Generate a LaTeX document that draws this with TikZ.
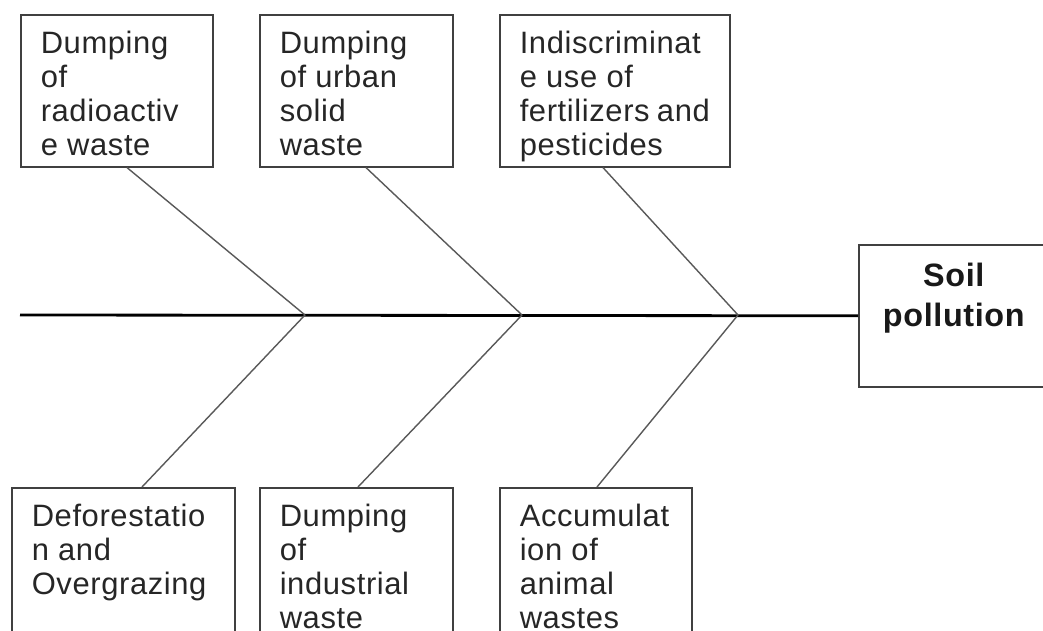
\documentclass[tikz,border=0pt]{standalone}
\usepackage{fontspec}
\setmainfont[LetterSpace=2]{Liberation Sans}
\usetikzlibrary{calc}

\tikzset{
  causebox/.style={draw=black!75, line width=1.1pt, anchor=north west,
    inner xsep=0.5cm, inner ysep=0pt, text=black!85,
    font=\fontsize{22}{24.2}\selectfont},
  effectbox/.style={draw=black!75, line width=1.1pt, anchor=north west,
    inner sep=0pt, text=black!90,
    font=\fontsize{23}{28.5}\selectfont\bfseries},
  bone/.style={draw=black!65, line width=1pt},
  spine/.style={draw=black, line width=2pt},
}

\begin{document}
\begin{tikzpicture}[x=0.025cm,y=-0.025cm]
  \useasboundingbox (0,0) rectangle (1043,630);
  % --- causes above the spine ---
  \node[causebox] (radio) at (20,14)
    {\parbox[t][3.8cm][t]{3.8cm}{\vspace*{0.4cm}Dumping\\of\\radioactiv\\e waste}};
  \node[causebox] (urban) at (259,14)
    {\parbox[t][3.8cm][t]{3.825cm}{\vspace*{0.4cm}Dumping\\of urban\\solid\\waste}};
  \node[causebox] (fert) at (499,14)
    {\parbox[t][3.8cm][t]{4.75cm}{\vspace*{0.4cm}Indiscriminat\\e use of\\fertilizers and\\pesticides}};
  % --- causes below the spine ---
  \node[causebox] (forest) at (11,487)
    {\parbox[t][4.5cm][t]{4.575cm}{\vspace*{0.4cm}Deforestatio\\n and\\Overgrazing}};
  \node[causebox] (industry) at (259,487)
    {\parbox[t][4.5cm][t]{3.825cm}{\vspace*{0.4cm}Dumping\\of\\industrial\\waste}};
  \node[causebox] (animal) at (499,487)
    {\parbox[t][4.5cm][t]{3.8cm}{\vspace*{0.4cm}Accumulat\\ion of\\animal\\wastes}};
  % --- the effect ---
  \node[effectbox] (soil) at (858,244)
    {\parbox[t][3.55cm][t]{4.75cm}{\centering\vspace*{0.45cm}Soil\\pollution}};
  % --- spine and bones ---
  \coordinate (tail) at (20,315);
  \coordinate (j1) at (305,315);
  \coordinate (j2) at (522,315);
  \coordinate (j3) at (738,315);
  \draw[spine] (tail) -- (soil.west);
  \draw[bone] ($(radio.south west)+(107,0)$) -- (j1);
  \draw[bone] ($(urban.south west)+(107,0)$) -- (j2);
  \draw[bone] ($(fert.south west)+(104,0)$) -- (j3);
  \draw[bone] ($(forest.north west)+(131,0)$) -- (j1);
  \draw[bone] ($(industry.north west)+(99,0)$) -- (j2);
  \draw[bone] ($(animal.north west)+(98,0)$) -- (j3);
\end{tikzpicture}
\end{document}
